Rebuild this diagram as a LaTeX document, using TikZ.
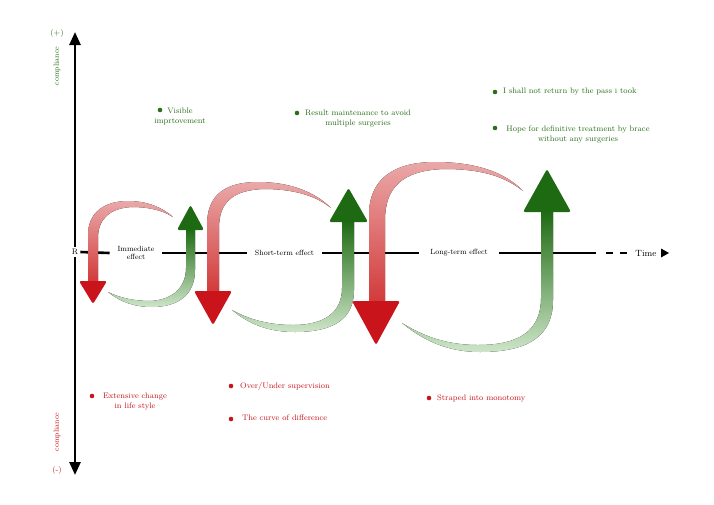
\documentclass[tikz,border=0pt]{standalone}
\usetikzlibrary{arrows.meta}
\definecolor{gdark}{HTML}{1E6A12}
\definecolor{glight}{HTML}{CDE5C8}
\definecolor{rdark}{HTML}{C8141A}
\definecolor{rmid}{HTML}{D23A3A}
\definecolor{rlight}{HTML}{EAA8A8}
\definecolor{gtext}{HTML}{2A6E1A}
\definecolor{rtext}{HTML}{C8141A}
\begin{document}
\begin{tikzpicture}[x=1pt,y=-1pt,
  axis/.style={line width=2.6pt,black},
  axlbl/.style={font=\fontsize{7.5}{8.5}\selectfont,inner xsep=8pt,inner ysep=1pt,outer sep=0pt,align=center},
  gitem/.style={font=\fontsize{8}{10}\selectfont,text=gtext,align=center,inner sep=0pt},
  ritem/.style={font=\fontsize{8}{10}\selectfont,text=rtext,align=center,inner sep=0pt},
  gbul/.style={circle,fill=gtext,inner sep=0pt,minimum size=4.6pt},
  rbul/.style={circle,fill=rtext,inner sep=0pt,minimum size=4.6pt},
  redband/.style={top color=rlight,bottom color=rmid},
  greenband/.style={top color=gdark,bottom color=glight},
  redhead/.style={fill=rdark,rounded corners=2.2pt},
  greenhead/.style={fill=gdark,rounded corners=2.2pt},
  sidel/.style={font=\fontsize{7.5}{8.5}\selectfont,rotate=90,inner sep=0pt}
]
\useasboundingbox (0,0) rectangle (714,504);

% ---- axes ----
\coordinate (ytop) at (75,32);
\coordinate (ybot) at (75,475);
\node[font=\fontsize{8}{9}\selectfont,inner sep=2pt] (R) at (75,252) {R};
\node[axlbl] (imm) at (136,253) {Immediate\\effect};
\node[axlbl] (short) at (284.5,253) {Short-term effect};
\node[axlbl,inner xsep=11pt] (long) at (459,253) {Long-term effect};
\coordinate (solidend) at (596,253);
\coordinate (d1a) at (606,253);
\coordinate (d1b) at (613,253);
\coordinate (d2a) at (620,253);
\coordinate (d2b) at (627,253);
\node[font=\fontsize{9}{10}\selectfont,inner sep=0pt] (time) at (646,253) {Time};
\coordinate (tri) at (665,253);

\draw[axis,-{Triangle[length=13pt,width=11pt]}] (R.north) -- (ytop);
\draw[axis,-{Triangle[length=13pt,width=11pt]}] (R.south) -- (ybot);
\draw[axis] (R.east) -- (imm.west);
\draw[axis] (imm.east) -- (short.west);
\draw[axis] (short.east) -- (long.west);
\draw[axis] (long.east) -- (solidend);
\draw[axis] (d1a) -- (d1b);
\draw[axis] (d2a) -- (d2b);
\fill ([xshift=-4pt,yshift=-4.5pt]tri) -- ([xshift=4pt]tri) -- ([xshift=-4pt,yshift=4.5pt]tri) -- cycle;

\node[sidel,text=gtext] (cplus) at (57,66) {compliance};
\node[font=\fontsize{8}{9}\selectfont,text=gtext,inner sep=0pt] (plus) at (57,33) {(+)};
\node[sidel,text=rtext] (cminus) at (57,432) {compliance};
\node[font=\fontsize{8}{9}\selectfont,text=rtext,inner sep=0pt] (minus) at (57,470) {(-)};

% ---- cycle 1 ----
\fill[redband] (88,282) -- (88,235) .. controls (88,212) and (105,201) .. (128,201)
  .. controls (148,201) and (163,208) .. (173,217)
  .. controls (162,210) and (148,207) .. (132,207)
  .. controls (111,208) and (98,218) .. (98,238) -- (98,282) -- cycle;
\fill[redhead] (79,281) -- (107,281) -- (93,304) -- cycle;
\fill[greenband] (108,292) .. controls (120,302) and (135,307) .. (152,307)
  .. controls (178,307) and (195,295) .. (195,270) -- (195,229) -- (186,229) -- (186,268)
  .. controls (186,288) and (172,300) .. (150,301)
  .. controls (135,301) and (120,298) .. (108,292) -- cycle;
\fill[greenhead] (177,230) -- (204,230) -- (190.5,205) -- cycle;

% ---- cycle 2 ----
\fill[redband] (207,292) -- (207,225) .. controls (207,195) and (225,182) .. (258,182)
  .. controls (290,182) and (315,192) .. (331,208)
  .. controls (315,195) and (292,189) .. (264,189)
  .. controls (232,190) and (219,203) .. (219,228) -- (219,292) -- cycle;
\fill[redhead] (194,291) -- (232,291) -- (213,325) -- cycle;
\fill[greenband] (232,310) .. controls (250,325) and (270,332) .. (295,332)
  .. controls (335,332) and (354,318) .. (354,290) -- (354,221) -- (342,221) -- (342,288)
  .. controls (342,312) and (325,325) .. (293,325)
  .. controls (270,325) and (250,320) .. (232,310) -- cycle;
\fill[greenhead] (329,222) -- (368,222) -- (348.5,188) -- cycle;

% ---- cycle 3 ----
\fill[redband] (369,302) -- (369,215) .. controls (369,178) and (395,162) .. (435,162)
  .. controls (475,162) and (505,172) .. (523,191)
  .. controls (503,175) and (478,169) .. (445,169)
  .. controls (402,170) and (385,188) .. (385,220) -- (385,302) -- cycle;
\fill[redhead] (352,301) -- (400,301) -- (376,345) -- cycle;
\fill[greenband] (402,323) .. controls (425,342) and (450,352) .. (480,352)
  .. controls (530,352) and (553,335) .. (553,300) -- (553,211) -- (541,211) -- (541,298)
  .. controls (541,330) and (520,345) .. (478,345)
  .. controls (450,345) and (426,338) .. (402,323) -- cycle;
\fill[greenhead] (523,212) -- (571,212) -- (547,169) -- cycle;

% ---- green items ----
\node[gbul] (gb1) at (160,110) {};
\node[gitem] (g1) at (180,116.5) {Visible\\imprtovement};
\node[gbul] (gb2) at (297,113) {};
\node[gitem] (g2) at (358,119) {Result maintenance to avoid\\multiple surgeries};
\node[gbul] (gb3) at (495,92) {};
\node[gitem,anchor=west] (g3) at (503,92) {I shall not return by the pass i took};
\node[gbul] (gb4) at (495,128) {};
\node[gitem] (g4) at (578,134) {Hope for definitive treatment by brace\\without any surgeries};

% ---- red items ----
\node[rbul] (rb1) at (92,396) {};
\node[ritem] (r1) at (135,402) {Extensive change\\in life style};
\node[rbul] (rb2) at (231,386) {};
\node[ritem,anchor=west] (r2) at (240,386) {Over/Under supervision};
\node[rbul] (rb3) at (231,419) {};
\node[ritem,anchor=west] (r3) at (242,418) {The curve of difference};
\node[rbul] (rb4) at (429,398) {};
\node[ritem,anchor=west] (r4) at (437,398) {Straped into monotomy};
\end{tikzpicture}
\end{document}
